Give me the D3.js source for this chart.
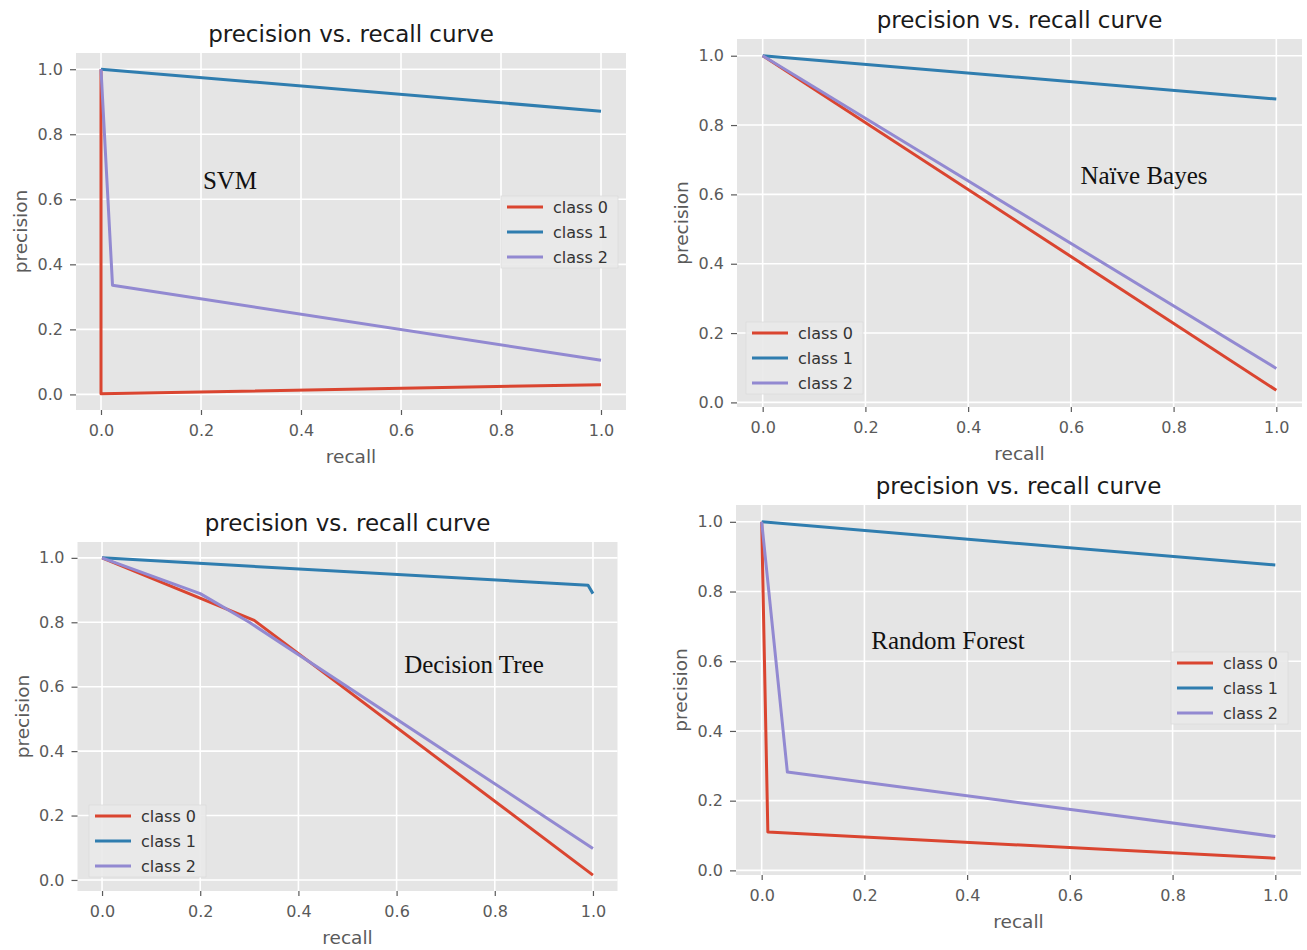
<!DOCTYPE html>
<html>
<head>
<meta charset="utf-8">
<script src="https://cdn.jsdelivr.net/npm/d3@7"></script>
<style>
  body { margin: 0; background: #fff; }
  text { font-family: "DejaVu Sans", sans-serif; }
</style>
</head>
<body>
<div id="chart"></div>
<script>
const classNames = ["class 0", "class 1", "class 2"];
const classColors = ["#DA4530", "#2F7DAF", "#9289D1"];
const tickValues = [0, 0.2, 0.4, 0.6, 0.8, 1.0];
const modelNames = ["SVM", "Naïve Bayes", "Decision Tree", "Random Forest"];

// [recall, precision] points for each class
const svmClass0 = [[0, 1], [0, 0.002], [1, 0.03]];
const svmClass1 = [[0, 1], [1, 0.871]];
const svmClass2 = [[0, 1], [0.023, 0.336], [1, 0.105]];

const nbClass0 = [[0, 1], [1, 0.035]];
const nbClass1 = [[0, 1], [1, 0.875]];
const nbClass2 = [[0, 1], [1, 0.098]];

const dtClass0 = [[0, 1], [0.31, 0.806], [1, 0.015]];
const dtClass1 = [[0, 1], [0.99, 0.915], [1, 0.889]];
const dtClass2 = [[0, 1], [0.2, 0.889], [0.3, 0.8], [1, 0.098]];

const rfClass0 = [[0, 1], [0.012, 0.11], [1, 0.035]];
const rfClass1 = [[0, 1], [1, 0.876]];
const rfClass2 = [[0, 1], [0.05, 0.282], [1, 0.097]];

const width = 1307, height = 950;

// layout of the four panels
const panels = [
    {name: modelNames[0], series: [svmClass0, svmClass1, svmClass2],
     left: 76, top: 53, right: 626, bottom: 410,
     legend: {x: 501, y: 196}, note: {x: 230, y: 189}},
    {name: modelNames[1], series: [nbClass0, nbClass1, nbClass2],
     left: 737, top: 39, right: 1302, bottom: 407,
     legend: {x: 746, y: 322}, note: {x: 1144, y: 184}},
    {name: modelNames[2], series: [dtClass0, dtClass1, dtClass2],
     left: 77.5, top: 542, right: 617.5, bottom: 891,
     legend: {x: 89, y: 805}, note: {x: 474, y: 673}},
    {name: modelNames[3], series: [rfClass0, rfClass1, rfClass2],
     left: 736, top: 505, right: 1301, bottom: 875,
     legend: {x: 1171, y: 652}, note: {x: 948, y: 649}}
];

const svg = d3.select("#chart").append("svg")
    .attr("width", width).attr("height", height);

// matplotlib style 5% margins around the data
function padded(vals) {
    const lo = d3.min(vals), hi = d3.max(vals), m = (hi - lo) * 0.05;
    return [lo - m, hi + m];
}

panels.forEach(p => {
    const all = p.series.flat();
    const x = d3.scaleLinear().domain(padded(all.map(d => d[0]))).range([p.left, p.right]);
    const y = d3.scaleLinear().domain(padded(all.map(d => d[1]))).range([p.bottom, p.top]);
    const g = svg.append("g");

    g.append("rect")
        .attr("x", p.left).attr("y", p.top)
        .attr("width", p.right - p.left).attr("height", p.bottom - p.top)
        .attr("fill", "#E5E5E5");

    // grid
    g.selectAll(".gx").data(tickValues).enter().append("line")
        .attr("x1", d => x(d)).attr("x2", d => x(d))
        .attr("y1", p.top).attr("y2", p.bottom)
        .attr("stroke", "#fff").attr("stroke-width", 1.6);
    g.selectAll(".gy").data(tickValues).enter().append("line")
        .attr("y1", d => y(d)).attr("y2", d => y(d))
        .attr("x1", p.left).attr("x2", p.right)
        .attr("stroke", "#fff").attr("stroke-width", 1.6);

    // axes
    const xa = g.append("g")
        .attr("transform", "translate(0," + p.bottom + ")")
        .call(d3.axisBottom(x).tickValues(tickValues).tickFormat(d3.format(".1f"))
            .tickSize(5).tickPadding(10));
    const ya = g.append("g")
        .attr("transform", "translate(" + p.left + ",0)")
        .call(d3.axisLeft(y).tickValues(tickValues).tickFormat(d3.format(".1f"))
            .tickSize(6).tickPadding(7));
    [xa, ya].forEach(a => {
        a.select(".domain").remove();
        a.selectAll(".tick line").attr("stroke", "#5a5a5a").attr("stroke-width", 1.2);
        a.selectAll(".tick text").attr("fill", "#5a5a5a").style("font-size", "16px");
    });

    // title and axis labels
    g.append("text")
        .attr("x", (p.left + p.right) / 2).attr("y", p.top - 11)
        .attr("text-anchor", "middle").attr("fill", "#1a1a1a")
        .style("font-size", "23px")
        .text("precision vs. recall curve");
    g.append("text")
        .attr("x", (p.left + p.right) / 2).attr("y", p.bottom + 53)
        .attr("text-anchor", "middle").attr("fill", "#5a5a5a")
        .style("font-size", "18.5px")
        .text("recall");
    g.append("text")
        .attr("transform", "translate(" + (p.left - 49) + "," + ((p.top + p.bottom) / 2) + ") rotate(-90)")
        .attr("text-anchor", "middle").attr("fill", "#5a5a5a")
        .style("font-size", "18.5px")
        .text("precision");

    // curves
    const line = d3.line().x(d => x(d[0])).y(d => y(d[1]));
    g.selectAll(".curve").data(p.series).enter().append("path")
        .attr("d", line)
        .attr("fill", "none")
        .attr("stroke", (d, i) => classColors[i])
        .attr("stroke-width", 3)
        .attr("stroke-linejoin", "round");

    // model name
    g.append("text")
        .attr("x", p.note.x).attr("y", p.note.y)
        .attr("text-anchor", "middle").attr("fill", "#111")
        .style("font-family", "'Liberation Serif', 'Times New Roman', serif")
        .style("font-size", "25px")
        .text(p.name);

    // legend
    const lg = g.append("g").attr("transform", "translate(" + p.legend.x + "," + p.legend.y + ")");
    lg.append("rect")
        .attr("width", 117).attr("height", 72)
        .attr("fill", "#E9E9E9").attr("fill-opacity", 0.9)
        .attr("stroke", "#DCDCDC").attr("stroke-width", 0.8);
    classNames.forEach((c, i) => {
        const cy = 11 + i * 25;
        lg.append("line")
            .attr("x1", 6).attr("x2", 42).attr("y1", cy).attr("y2", cy)
            .attr("stroke", classColors[i]).attr("stroke-width", 3);
        lg.append("text")
            .attr("x", 52).attr("y", cy).attr("dy", "0.35em")
            .attr("fill", "#333").style("font-size", "16px")
            .text(c);
    });
});
</script>
</body>
</html>
